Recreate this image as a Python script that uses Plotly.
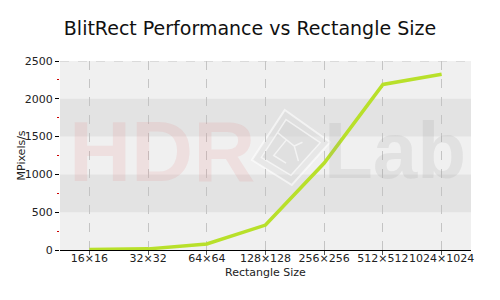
import plotly.graph_objects as go

categories = ["16×16", "32×32", "64×64", "128×128", "256×256", "512×512", "1024×1024"]
mpixels = [5, 15, 80, 330, 1150, 2190, 2325]
y_ticks = [0, 500, 1000, 1500, 2000, 2500]
band_ranges = [(500, 1000), (1500, 2000)]

FONT = "DejaVu Sans, Verdana, sans-serif"
W, H = 500, 300
ML, MR, MT, MB = 60, 29, 61, 50
PW, PH = W - ML - MR, H - MT - MB

fig = go.Figure()
fig.add_trace(go.Scatter(
    x=categories, y=mpixels, mode="lines",
    line=dict(color="#b8e02a", width=3.5),
    hoverinfo="x+y", showlegend=False,
))

shapes = []
for lo, hi in band_ranges:
    shapes.append(dict(type="rect", xref="paper", yref="y", x0=0, x1=1, y0=lo, y1=hi,
                       fillcolor="#e3e3e3", line=dict(width=0), layer="below"))
shapes.append(dict(type="line", xref="paper", yref="y", x0=0, x1=1, y0=y_ticks[-1], y1=y_ticks[-1],
                   line=dict(color="#c4c4c4", width=1, dash="dash"), layer="below"))
# logo diamond (watermark), outer and inner outlines
shapes.append(dict(type="path", xref="paper", yref="paper",
                   path="M 0.547,0.741 L 0.657,0.571 L 0.564,0.344 L 0.467,0.476 Z",
                   line=dict(color="rgba(255,255,255,0.6)", width=2),
                   fillcolor="rgba(215,215,215,0.35)", layer="below"))
shapes.append(dict(type="path", xref="paper", yref="paper",
                   path="M 0.550,0.690 L 0.633,0.568 L 0.562,0.395 L 0.490,0.490 Z",
                   line=dict(color="rgba(255,255,255,0.6)", width=1.5),
                   fillcolor="rgba(200,200,200,0.2)", layer="below"))
shapes.append(dict(type="path", xref="paper", yref="paper",
                   path="M 0.53,0.62 L 0.57,0.55 L 0.59,0.57 M 0.55,0.58 L 0.52,0.50 L 0.55,0.46 M 0.57,0.55 L 0.58,0.47",
                   line=dict(color="rgba(255,255,255,0.6)", width=1.5), layer="below"))

fig.update_layout(
    width=W, height=H,
    margin=dict(l=ML, r=MR, t=MT, b=MB),
    paper_bgcolor="white", plot_bgcolor="#f0f0f0",
    title=dict(text="BlitRect Performance vs Rectangle Size", x=0.5, xanchor="center",
               y=1 - 28 / H, yanchor="middle",
               font=dict(family=FONT, size=19, color="#111")),
    font=dict(family=FONT, size=11, color="#222"),
    shapes=shapes,
    annotations=[
        dict(text="HDR", xref="paper", yref="paper", x=0.249, y=0.524, showarrow=False,
             xanchor="center", yanchor="middle",
             font=dict(family="Liberation Sans", weight="bold", size=86, color="rgba(225,120,120,0.14)")),
        dict(text="Lab", xref="paper", yref="paper", x=0.815, y=0.524, showarrow=False,
             xanchor="center", yanchor="middle",
             font=dict(family="Liberation Sans", weight="bold", size=80, color="rgba(150,150,150,0.16)")),
        dict(text="Rectangle Size", xref="paper", yref="paper", x=0.5, y=-(272 - (H - MB)) / PH,
             showarrow=False, xanchor="center", yanchor="middle",
             font=dict(family=FONT, size=11, color="#222")),
        dict(text="MPixels/s", xref="paper", yref="paper", x=-(ML - 21) / PW, y=0.5, textangle=-90,
             showarrow=False, xanchor="center", yanchor="middle",
             font=dict(family=FONT, size=11, color="#222")),
    ],
    xaxis=dict(
        range=[-0.5, len(categories) - 0.5], automargin=False,
        showline=True, linecolor="#000", linewidth=1,
        ticks="outside", ticklen=4, tickcolor="#555", tickangle=0, ticklabelstandoff=-6,
        showgrid=True, gridcolor="#c4c4c4", griddash="dash", gridwidth=1,
        tickfont=dict(size=11), zeroline=False,
    ),
    yaxis=dict(
        range=[0, 2500], tickvals=y_ticks, automargin=False,
        showline=False, ticks="outside", ticklen=4, tickcolor="#000",
        showgrid=False, zeroline=False, tickfont=dict(size=11),
        minor=dict(tick0=0, dtick=250, ticks="outside", ticklen=2, tickcolor="#cc0000", showgrid=False),
    ),
)

fig.write_html("out.html")
